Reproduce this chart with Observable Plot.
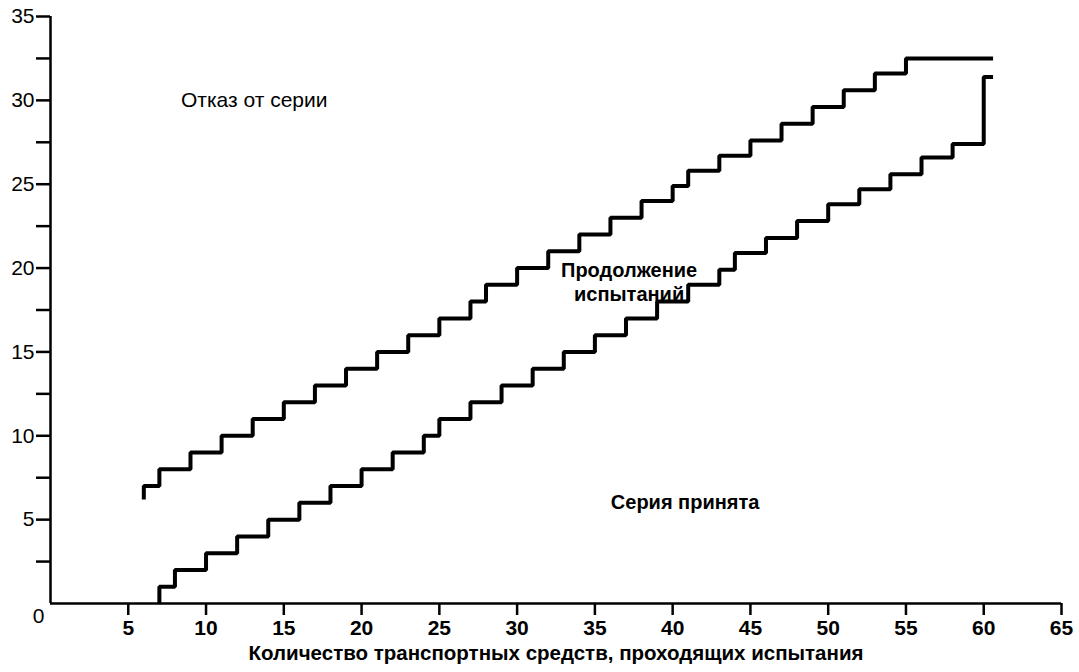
<!DOCTYPE html>
<html><head><meta charset="utf-8">
<script src="https://cdn.jsdelivr.net/npm/d3@7"></script>
<script src="https://cdn.jsdelivr.net/npm/@observablehq/plot@0.6"></script>
<style>body{margin:0;background:#fff;} svg{display:block}</style>
</head><body><div id="chart"></div>
<script>
// Upper boundary (rejection) – step-after vertices
const upperX = [6,6,7,9,11,13,15,17,19,21,23,25,27,28,30,32,34,36,38,40,41,43,45,47,49,51,53,55,60.6];
const upperY = [6.2,7,8,9,10,11,12,13,14,15,16,17,18,19,20,21,22,23,24,24.9,25.8,26.7,27.6,28.6,29.6,30.6,31.6,32.5,32.5];
// Lower boundary (acceptance) – step-after vertices
const lowerX = [7,7,8,10,12,14,16,18,20,22,24,25,27,29,31,33,35,37,39,41,43,44,46,48,50,52,54,56,58,60,60.6];
const lowerY = [0,1,2,3,4,5,6,7,8,9,10,11,12,13,14,15,16,17,18,19,19.9,20.9,21.8,22.8,23.8,24.7,25.6,26.6,27.4,31.4,31.4];

const xTicks = [5,10,15,20,25,30,35,40,45,50,55,60,65];
const yTicks = [5,10,15,20,25,30,35];
const yMinorTicks = [2.5,7.5,12.5,17.5,22.5,27.5,32.5];
const originLabel = ["0"];
const xLabel = ["Количество транспортных средств, проходящих испытания"];

const regionText = ["Отказ от серии", "Продолжение\nиспытаний", "Серия принята"];
const regionX = [13.1, 37.2, 40.8];
const regionY = [30.0, 19.2, 6.1];

const idx = a => d3.range(a.length);

const chart = Plot.plot({
  width: 1079,
  height: 672,
  marginLeft: 50,
  marginRight: 18,
  marginTop: 16,
  marginBottom: 69,
  style: {fontFamily: "'Liberation Sans', Arial, sans-serif", color: "black", background: "white"},
  x: {domain: [0, 65]},
  y: {domain: [0, 35]},
  marks: [
    Plot.ruleY([0], {x1: 0, x2: 65, strokeWidth: 2.5}),
    Plot.ruleX([0], {y1: 0, y2: 35, strokeWidth: 2.5}),
    Plot.axisX(xTicks, {tickSize: 12, tickPadding: 5, fontSize: 21, fontWeight: "bold", strokeWidth: 2.5, label: null}),
    Plot.axisY(yTicks, {tickSize: 14, tickPadding: 2, fontSize: 21, strokeWidth: 2.5, label: null}),
    Plot.axisY(yMinorTicks, {tickSize: 14, strokeWidth: 2.5, text: null, label: null}),
    Plot.text(originLabel, {x: () => 0, y: () => 0, text: d => d, dx: -12, dy: 13, fontSize: 21}),
    Plot.text(xLabel, {frameAnchor: "bottom", text: d => d, dy: 56, fontSize: 20.5, fontWeight: "bold"}),
    Plot.line(idx(upperX), {x: i => upperX[i], y: i => upperY[i], curve: "step-after", stroke: "black", strokeWidth: 4, strokeLinejoin: "miter", strokeLinecap: "butt"}),
    Plot.line(idx(lowerX), {x: i => lowerX[i], y: i => lowerY[i], curve: "step-after", stroke: "black", strokeWidth: 4, strokeLinejoin: "miter", strokeLinecap: "butt"}),
    Plot.text([0], {x: i => regionX[i], y: i => regionY[i], text: i => regionText[i], fontSize: 21}),
    Plot.text([1, 2], {x: i => regionX[i], y: i => regionY[i], text: i => regionText[i], fontSize: 20, fontWeight: "bold", lineHeight: 1.2})
  ]
});
document.getElementById("chart").appendChild(chart);
</script>
</body></html>
